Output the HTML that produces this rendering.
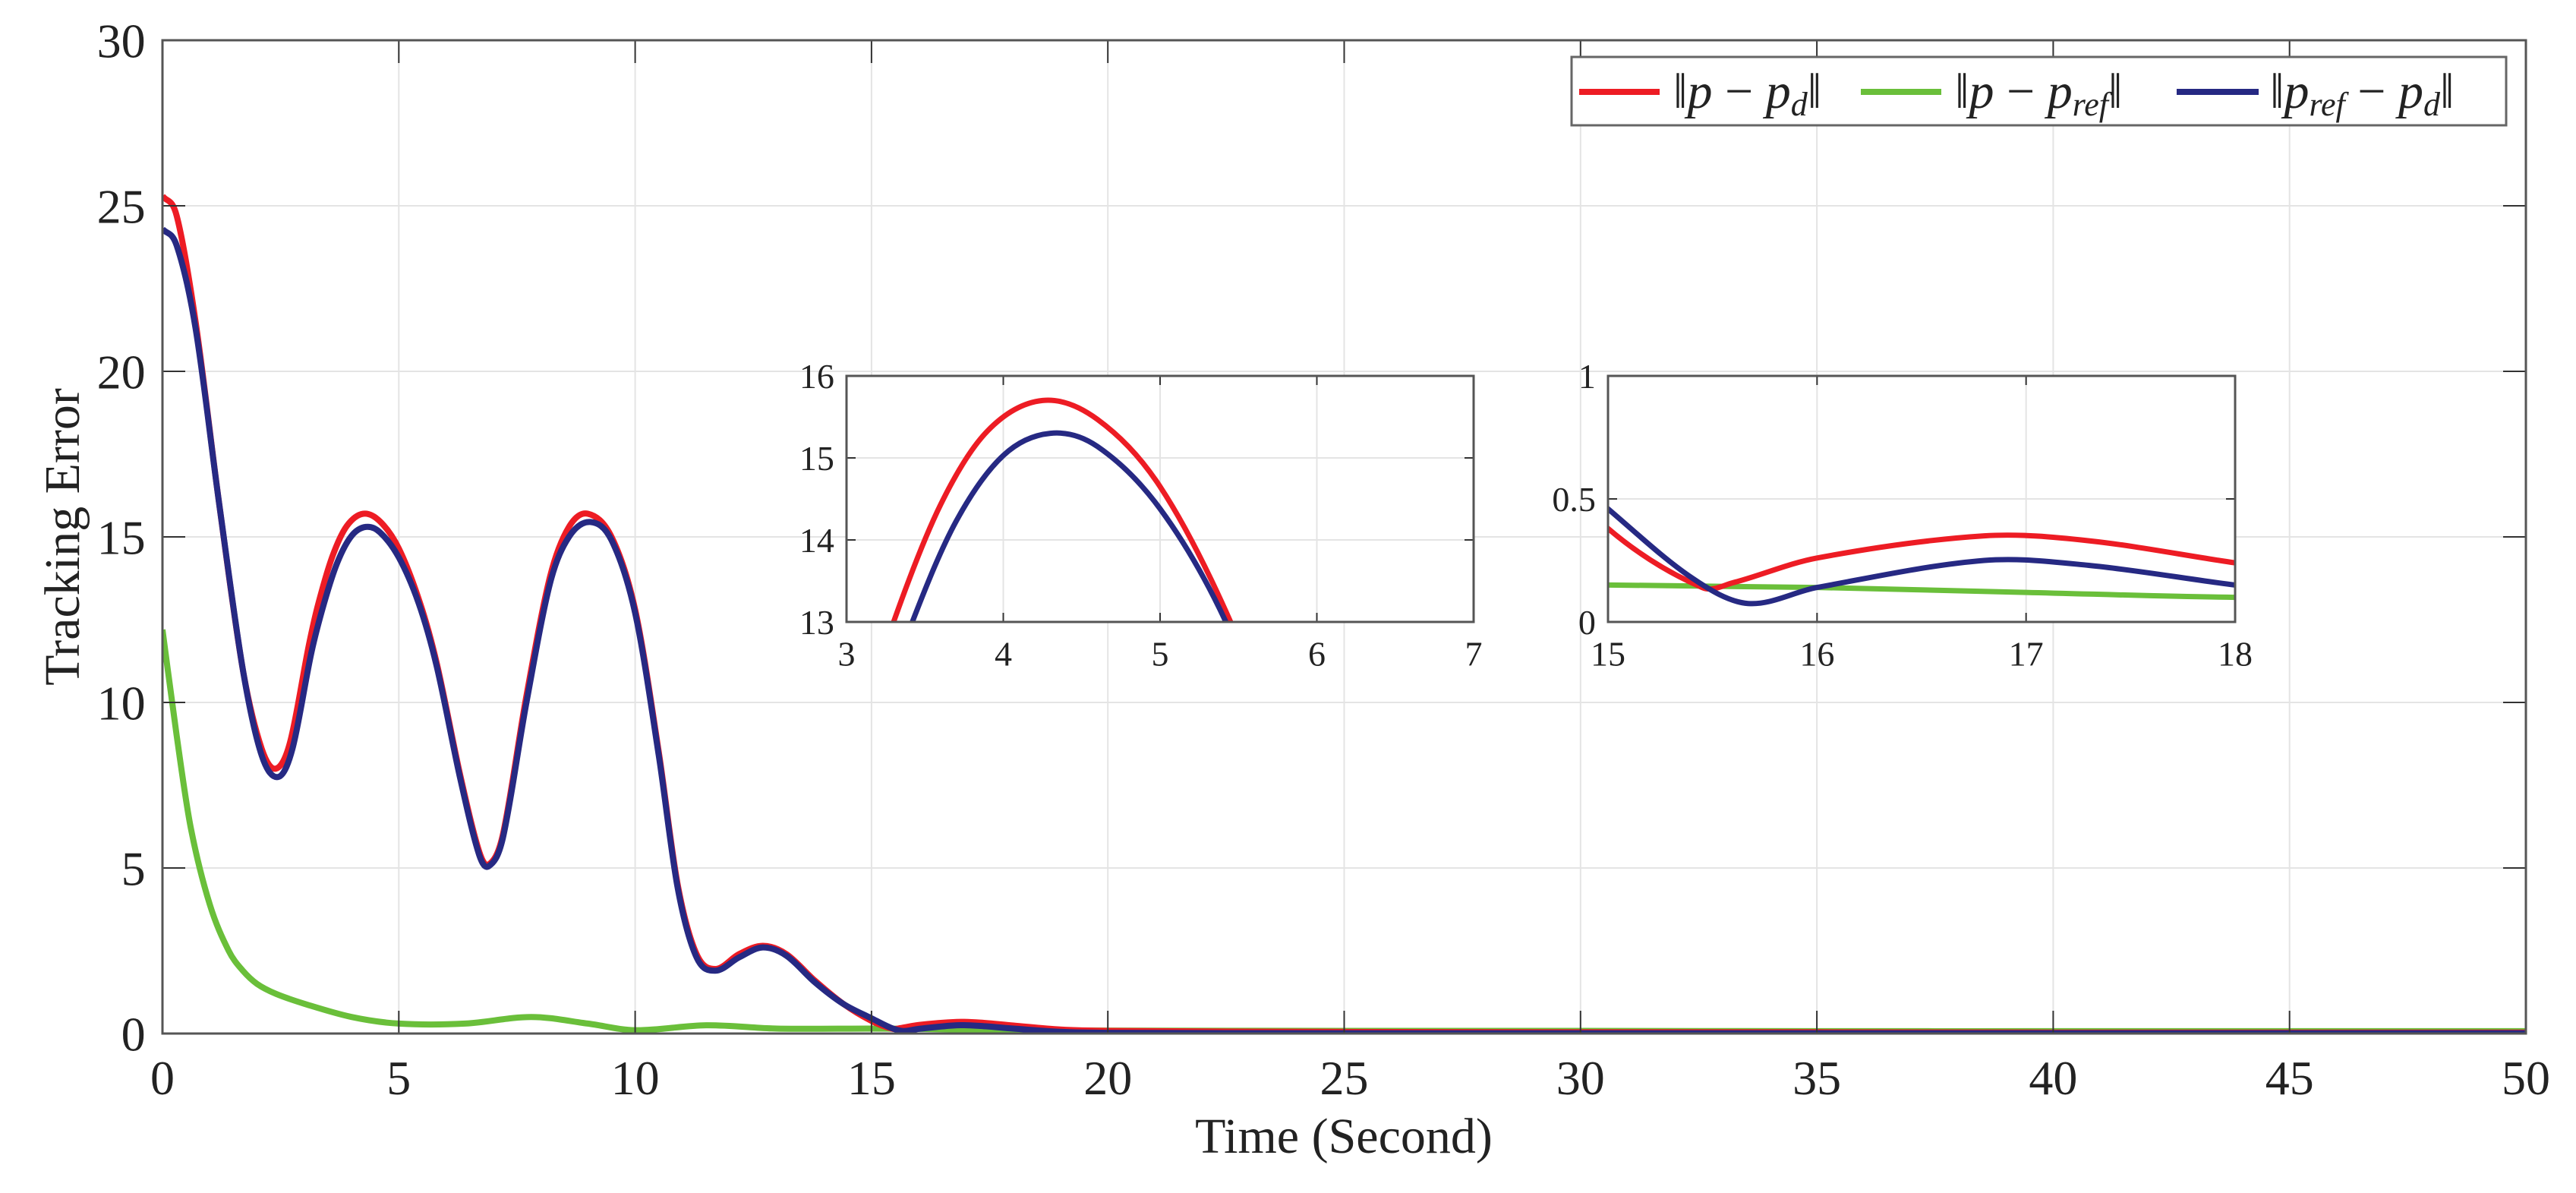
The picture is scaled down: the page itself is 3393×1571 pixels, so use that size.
<!DOCTYPE html>
<html><head><meta charset="utf-8"><style>
html,body{margin:0;padding:0;background:#fff;overflow:hidden;width:3393px;height:1571px;}
svg{display:block;}
text{font-family:"Liberation Serif","Times New Roman",serif;fill:#222;}
</style></head><body>
<svg id="chart" width="3393" height="1571" viewBox="0 0 3393 1571" xmlns="http://www.w3.org/2000/svg">
<rect x="0" y="0" width="3393" height="1571" fill="#fff"/>
<defs>
<clipPath id="clipMain"><rect x="214" y="53" width="3113" height="1308"/></clipPath>
<clipPath id="clipIn1"><rect x="1115" y="495" width="826" height="324"/></clipPath>
<clipPath id="clipIn2"><rect x="2118" y="495" width="826" height="324"/></clipPath>
</defs>
<g id="root"></g>
</svg>
<script>
// ---- data ----
const redT = [0,0.3,0.7,1.2,1.7,2.1,2.4,2.7,3.1,3.3,3.6,3.9,4.25,4.6,5.0,5.45,5.8,6.3,6.7,6.9,7.2,7.7,8.2,8.6,9.0,9.5,10.0,10.5,10.9,11.3,11.7,12.2,12.7,13.2,13.8,14.4,15,15.45,15.6,16,16.8,17.3,18,19,20,25,30,35,40,45,50];
const redV = [25.3,24.7,21.5,16,11,8.6,8.0,8.8,11.75,13.0,14.43,15.33,15.7,15.47,14.65,13.0,11.2,7.8,5.5,5.1,6.0,10.2,13.8,15.3,15.7,15.0,12.8,8.5,4.5,2.4,1.95,2.4,2.65,2.4,1.6,0.9,0.38,0.14,0.16,0.26,0.35,0.33,0.24,0.12,0.08,0.05,0.04,0.04,0.03,0.03,0.03];
const blueT = [0,0.3,0.7,1.2,1.7,2.1,2.45,2.75,3.15,3.42,3.7,4.0,4.3,4.6,5.0,5.42,5.8,6.3,6.7,6.9,7.2,7.7,8.2,8.6,9.05,9.5,10,10.5,10.9,11.3,11.7,12.2,12.7,13.2,13.8,14.4,15,15.4,15.67,16,16.8,17.3,18,19,20,25,30,35,40,45,50];
const blueV = [24.3,23.8,21.3,16,11,8.4,7.75,8.6,11.5,13.0,14.23,15.03,15.3,15.14,14.38,13.0,11.1,7.7,5.4,5.05,5.9,10,13.6,15.0,15.45,14.9,12.7,8.4,4.4,2.3,1.9,2.3,2.6,2.35,1.55,0.9,0.46,0.18,0.075,0.14,0.25,0.23,0.15,0.05,0.02,0.01,0.01,0.01,0.01,0.01,0.01];
const greenT = [0,0.3,0.6,1.0,1.4,1.7,2.0,2.4,3.0,4.0,5.0,6.4,7.8,9.0,10.0,11.5,13,15,16,17,18,20,25,30,35,40,45,50];
const greenV = [12.2,9.0,6.2,3.9,2.5,1.9,1.5,1.2,0.9,0.5,0.3,0.3,0.5,0.3,0.1,0.25,0.15,0.15,0.14,0.12,0.1,0.09,0.08,0.08,0.07,0.07,0.07,0.07];
const mainXTicks = [0,5,10,15,20,25,30,35,40,45,50];
const mainYTicks = [0,5,10,15,20,25,30];
const in1XTicks = [3,4,5,6,7];
const in1YTicks = [13,14,15,16];
const in2XTicks = [15,16,17,18];
const in2YTicks = [0,0.5,1];
const in2YLabels = ['0','0.5','1'];

const NS = 'http://www.w3.org/2000/svg';
const root = document.getElementById('root');
function el(tag, attrs, parent){
  const e = document.createElementNS(NS, tag);
  for (const k in attrs) e.setAttribute(k, attrs[k]);
  (parent||root).appendChild(e);
  return e;
}
function scale(d0,d1,r0,r1){ return v => r0 + (v-d0)/(d1-d0)*(r1-r0); }
function pathFrom(T,V,sx,sy){
  const n = T.length, m = [];
  for (let i=0;i<n;i++){
    const a = i>0?i-1:i, b = i<n-1?i+1:i;
    m.push((V[b]-V[a])/(T[b]-T[a]));
  }
  let d = 'M'+sx(T[0]).toFixed(1)+','+sy(V[0]).toFixed(1);
  for (let i=0;i<n-1;i++){
    const h = T[i+1]-T[i];
    const c1x = T[i]+h/3, c1y = V[i]+m[i]*h/3;
    const c2x = T[i+1]-h/3, c2y = V[i+1]-m[i+1]*h/3;
    d += ' C'+sx(c1x).toFixed(1)+','+sy(c1y).toFixed(1)+' '+sx(c2x).toFixed(1)+','+sy(c2y).toFixed(1)+' '+sx(T[i+1]).toFixed(1)+','+sy(V[i+1]).toFixed(1);
  }
  return d;
}

function drawAxes(cfg){
  const {x0,x1,y0,y1,xd,yd,xt,yt,ytl,clip,fs,tickLen,lw,name} = cfg;
  const sx = scale(xd[0],xd[1],x0,x1), sy = scale(yd[0],yd[1],y1,y0);
  const g = el('g',{});
  
  
  el('rect',{x:x0,y:y0,width:x1-x0,height:y1-y0,fill:'#fff'},g);
  xt.forEach(v=>{ const ln=el('line',{x1:sx(v),x2:sx(v),y1:y0,y2:y1,stroke:'#e4e4e4','stroke-width':2},g);
      });
  yt.forEach(v=>{ const ln=el('line',{x1:x0,x2:x1,y1:sy(v),y2:sy(v),stroke:'#e4e4e4','stroke-width':2},g);
      });
  const series = [[greenT,greenV,'#6abf3a','series-p-pref'],[redT,redV,'#ed1c24','series-p-pd'],[blueT,blueV,'#262983','series-pref-pd']];
  const sg = el('g',{'clip-path':'url(#'+clip+')'},g);
  series.forEach(s=>{
    const p = el('path',{d:pathFrom(s[0],s[1],sx,sy),fill:'none',stroke:s[2],'stroke-width':lw,'stroke-linejoin':'round'},sg);
    
    
  });
  xt.forEach(v=>{
    el('line',{x1:sx(v),x2:sx(v),y1:y1,y2:y1-tickLen,stroke:'#333','stroke-width':2},g);
    el('line',{x1:sx(v),x2:sx(v),y1:y0,y2:y0+tickLen,stroke:'#333','stroke-width':2},g);
    const t = el('text',{x:sx(v),y:y1+fs*1.25,'font-size':fs,'text-anchor':'middle'},g);
    t.textContent = v;
    
    
  });
  yt.forEach((v,i)=>{
    el('line',{x1:x0,x2:x0+tickLen,y1:sy(v),y2:sy(v),stroke:'#333','stroke-width':2},g);
    el('line',{x1:x1,x2:x1-tickLen,y1:sy(v),y2:sy(v),stroke:'#333','stroke-width':2},g);
    const t = el('text',{x:x0-fs*0.35,y:sy(v)+fs*0.35,'font-size':fs,'text-anchor':'end'},g);
    t.textContent = ytl ? ytl[i] : v;
    
    
  });
  el('rect',{x:x0,y:y0,width:x1-x0,height:y1-y0,fill:'none',stroke:'#555','stroke-width':3},g);
}

drawAxes({x0:214,x1:3327,y0:53,y1:1361,xd:[0,50],yd:[0,30],xt:mainXTicks,yt:mainYTicks,clip:'clipMain',fs:64,tickLen:30,lw:8,name:'main-plot'});
drawAxes({x0:1115,x1:1941,y0:495,y1:819,xd:[3,7],yd:[13,16],xt:in1XTicks,yt:in1YTicks,clip:'clipIn1',fs:46,tickLen:12,lw:7,name:'inset-peak-zoom'});
drawAxes({x0:2118,x1:2944,y0:495,y1:819,xd:[15,18],yd:[0,1],xt:in2XTicks,yt:in2YTicks,ytl:in2YLabels,clip:'clipIn2',fs:46,tickLen:12,lw:7,name:'inset-settling-zoom'});

// axis titles
const xt = el('text',{x:1770,y:1518,'font-size':66,'text-anchor':'middle'});
xt.textContent = 'Time (Second)';


const yt = el('text',{x:0,y:0,'font-size':66,'text-anchor':'middle',transform:'translate(104,707) rotate(-90)'});
yt.textContent = 'Tracking Error';



// legend
const lg = el('g',{});


el('rect',{x:2070,y:75,width:1231,height:90,fill:'#fff',stroke:'#666','stroke-width':3},lg);
function legendEntry(x1,x2,tx,color,sub,name){
  const g = el('g',{},lg);
  
  
  el('line',{x1:x1,x2:x2,y1:121,y2:121,stroke:color,'stroke-width':8},g);
  const t = el('text',{x:tx,y:142,'font-size':66},g);
  t.innerHTML = sub;
}
legendEntry(2080,2186,2204,'#ed1c24','‖<tspan font-style="italic">p</tspan> − <tspan font-style="italic">p</tspan><tspan font-style="italic" font-size="44" dy="10">d</tspan><tspan dy="-10">‖</tspan>','legend-entry-p-pd');
legendEntry(2451,2557,2575,'#6abf3a','‖<tspan font-style="italic">p</tspan> − <tspan font-style="italic">p</tspan><tspan font-style="italic" font-size="44" dy="10">ref</tspan><tspan dy="-10">‖</tspan>','legend-entry-p-pref');
legendEntry(2867,2975,2990,'#262983','‖<tspan font-style="italic">p</tspan><tspan font-style="italic" font-size="44" dy="10">ref</tspan><tspan dy="-10"> − </tspan><tspan font-style="italic">p</tspan><tspan font-style="italic" font-size="44" dy="10">d</tspan><tspan dy="-10">‖</tspan>','legend-entry-pref-pd');
</script>
</body></html>
